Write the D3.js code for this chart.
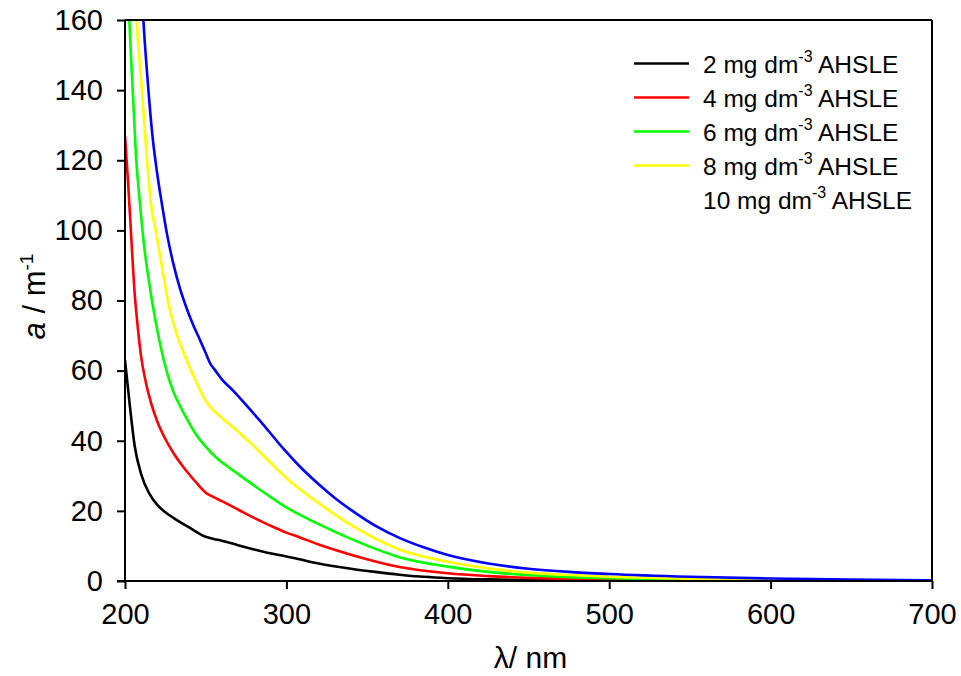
<!DOCTYPE html>
<html>
<head>
<meta charset="utf-8">
<script src="https://cdn.jsdelivr.net/npm/d3@7/dist/d3.min.js"></script>
<style>
  html, body { margin: 0; padding: 0; background: #fff; }
  svg { display: block; font-family: "Liberation Sans", Arial, sans-serif; }
</style>
</head>
<body>
<svg id="chart" width="961" height="676"></svg>
<script>
// ---- Data (wavelength in nm, absorption coefficient a in m^-1) ----
const wl2  = [200,203,206,210,215,220,225,230,240,250,255,260,270,280,290,300,308,320,340,355,370,385,400,425,450,500,600,700];
const a2   = [63,50,38.5,30.5,25,21.7,19.6,18,15.2,12.6,12,11.5,10.2,9,7.9,7,6.2,5,3.5,2.6,1.8,1.2,0.8,0.45,0.28,0.12,0.04,0.01];

const wl4  = [200,202,204,206,208,210,213,216,220,225,230,236,240,245,250,255,260,270,280,290,300,308,320,340,370,400,425,450,475,500,550,600,700];
const a4   = [127,113,97,82,72,64,56.5,51,45.5,40.5,36.5,32.6,30.3,27.6,25.2,23.9,22.8,20.4,18,15.8,13.8,12.5,10.4,7.5,4,2.2,1.4,0.9,0.6,0.4,0.2,0.1,0.02];

const wl6  = [201.5,202.7,205,207,209,212,215,218,222,226,230,234,238,243,250,257,265,271,277,285,292,300,310,320,340,370,400,425,450,475,500,550,600,700];
const a6   = [175,160,138,120,109,95,85,76.5,67,59.5,54,50,46.5,42.5,38.3,35,32.2,30.2,28.2,25.6,23.4,21,18.5,16.2,12,6.8,4.1,2.6,1.7,1.1,0.8,0.4,0.2,0.05];

const wl8  = [205.5,207.2,210,213,216,219,222,225,228,232,236,240,244,248.5,252.7,256.8,265,272,280,290,300,310,320,340,370,400,425,450,475,500,550,600,650,700];
const a8   = [178,160,143,124,108,100,92,84,77,70.5,65.5,61,57,52.6,49.7,47.8,44.6,41.8,38.4,33.8,29.4,25.6,22.2,16,9,5.5,3.6,2.4,1.7,1.2,0.6,0.3,0.15,0.08];

const wl10 = [209.5,211.4,214,217,220,222.7,226,229.9,234,238,242,246.5,250,252.7,256,260,267,275,283,290,298,308,320,330,340,355,370,385,400,425,450,475,500,550,600,650,700];
const a10  = [178,160,143,127,116,108,99,90.6,83.5,78,73.3,68.7,65,62.1,60,57.5,54.3,50.2,46,42.2,37.8,32.8,27.6,23.7,20.3,15.8,12.3,9.6,7.4,5,3.5,2.6,2,1.2,0.7,0.4,0.2];

const seriesNames  = ["2", "4", "6", "8", "10"];
const seriesColors = ["#000000", "#ff0000", "#00ff00", "#ffff00", "#0000ff"];
const seriesWl     = [wl2, wl4, wl6, wl8, wl10];
const seriesA      = [a2, a4, a6, a8, a10];
const legendHasLine = [true, true, true, true, false];

const xTicks = [200, 300, 400, 500, 600, 700];
const yTicks = [0, 20, 40, 60, 80, 100, 120, 140, 160];

// ---- Layout ----
const svg = d3.select("#chart");
const L = 125, R = 932, T = 20, B = 581;

const x = d3.scaleLinear().domain([200, 700]).range([L, R]);
const y = d3.scaleLinear().domain([0, 160]).range([B, T]);

svg.append("defs").append("clipPath").attr("id", "plotclip")
  .append("rect").attr("x", L).attr("y", T).attr("width", R - L).attr("height", B - T);

// ---- Curves ----
const line = d3.line()
  .x(d => x(d[0])).y(d => y(d[1]))
  .curve(d3.curveMonotoneX);

const g = svg.append("g").attr("clip-path", "url(#plotclip)");
seriesNames.forEach((n, i) => {
  const pts = seriesWl[i].map((w, j) => [w, seriesA[i][j]]);
  g.append("path")
    .attr("d", line(pts))
    .attr("fill", "none")
    .attr("stroke", seriesColors[i])
    .attr("stroke-width", 2.6)
    .attr("stroke-linejoin", "round");
});

// ---- Frame (top & right) ----
svg.append("line").attr("x1", L).attr("x2", R).attr("y1", T).attr("y2", T)
  .attr("stroke", "#000").attr("stroke-width", 2);
svg.append("line").attr("x1", R).attr("x2", R).attr("y1", T).attr("y2", B)
  .attr("stroke", "#000").attr("stroke-width", 2);

// ---- Axes ----
const xAxis = d3.axisBottom(x).tickValues(xTicks).tickSize(8).tickPadding(14).tickFormat(d3.format("d"));
const yAxis = d3.axisLeft(y).tickValues(yTicks).tickSize(8).tickPadding(14).tickFormat(d3.format("d"));

const gx = svg.append("g").attr("transform", `translate(0,${B})`).call(xAxis);
const gy = svg.append("g").attr("transform", `translate(${L},0)`).call(yAxis);

[gx, gy].forEach(ax => {
  ax.select(".domain").attr("stroke", "#000").attr("stroke-width", 2);
  ax.selectAll(".tick line").attr("stroke", "#000").attr("stroke-width", 2);
  ax.selectAll(".tick text").attr("fill", "#000")
    .style("font-family", "'Liberation Sans', Arial, sans-serif")
    .style("font-size", "29px");
});
gx.select(".domain").attr("d", `M${L - 8},0H${R}`);
gy.select(".domain").attr("d", `M0,${B}V${T}`);

// ---- Axis titles ----
svg.append("text")
  .attr("x", (L + R) / 2 + 2).attr("y", 668)
  .attr("text-anchor", "middle")
  .style("font-size", "30px")
  .text("λ/ nm");

const yt = svg.append("text")
  .attr("transform", `translate(45,${(T + B) / 2 - 4}) rotate(-90)`)
  .attr("text-anchor", "middle")
  .style("font-size", "31px");
yt.append("tspan").style("font-style", "italic").text("a");
yt.append("tspan").text(" / m");
yt.append("tspan").attr("dy", -12).style("font-size", "19px").text("-1");

// ---- Legend ----
const legY0 = 63.5, legDy = 34;
seriesNames.forEach((n, i) => {
  const cy = legY0 + i * legDy;
  if (legendHasLine[i]) {
    svg.append("line").attr("x1", 634).attr("x2", 689).attr("y1", cy).attr("y2", cy)
      .attr("stroke", seriesColors[i]).attr("stroke-width", 2.6);
  }
  const t = svg.append("text").attr("x", 703).attr("y", cy + 9.5).style("font-size", "24.5px");
  t.append("tspan").text(n + " mg dm");
  t.append("tspan").attr("dy", -11).style("font-size", "16px").text("-3");
  t.append("tspan").attr("dy", 11).text(" AHSLE");
});
</script>
</body>
</html>
